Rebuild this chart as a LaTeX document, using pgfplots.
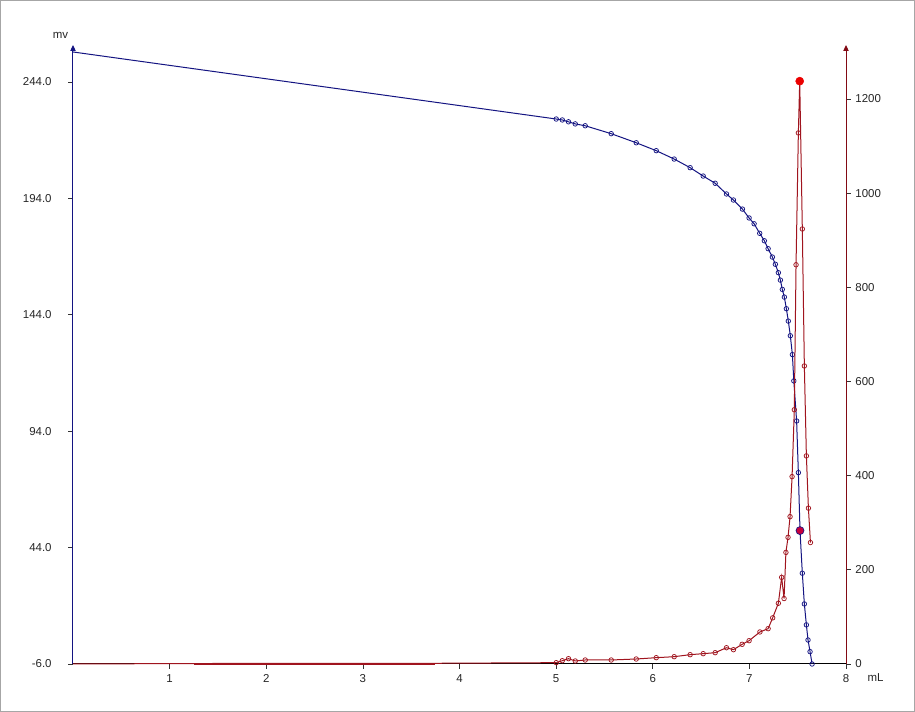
\documentclass[border=0pt]{standalone}
\usepackage{pgfplots}
\pgfplotsset{compat=1.18}
\usepackage{fontspec}
\setmainfont{Liberation Sans}
\usetikzlibrary{arrows.meta}
\definecolor{mvblue}{RGB}{20,20,130}
\definecolor{dred}{RGB}{160,20,30}
\definecolor{redaxis}{RGB}{130,10,20}
\definecolor{peakred}{RGB}{235,0,0}
\definecolor{eqdot}{RGB}{200,0,60}
\begin{document}
\begin{tikzpicture}
\useasboundingbox (0,0) rectangle (686.25pt,534pt);
\fill[white] (0,0) rectangle (686.25pt,534pt);
\draw[black!35, line width=0.75pt] (0.6pt,0.6pt) rectangle (685.6pt,533.4pt);
\pgfplotsset{
  common/.style={
    at={(54.75pt,36pt)}, anchor=south west,
    scale only axis, width=579.75pt, height=464.25pt,
    xmin=0, xmax=8, clip=false,
    tick align=outside, major tick length=3.5pt,
    tick style={black!80, line width=0.5pt},
    tick label style={font=\fontsize{8.6}{10}\selectfont, text=black!85},
  }
}
\begin{axis}[common,
  ymin=-6, ymax=259.9,
  axis x line*=bottom, axis y line*=left,
  x axis line style={black, line width=0.75pt, -},
  y axis line style={mvblue, line width=0.75pt, -{Triangle[length=4.5pt,width=4pt]}},
  xtick={1,2,3,4,5,6,7,8}, xticklabels={1,2,3,4,5,6,7,8},
  xticklabel style={yshift=-1pt},
  ytick={-6,44,94,144,194,244},
  yticklabels={-6.0,44.0,94.0,144.0,194.0,244.0},
  yticklabel style={xshift=-9pt},
]
\addplot[mvblue, line width=0.75pt] coordinates {(0,256.9)(5.001,228.1)};
\addplot[mvblue, line width=0.75pt, mark=o, mark size=1.7pt,
  mark options={fill=white, line width=0.55pt}] coordinates {
(5.001,228.1)(5.064,227.7)(5.128,226.9)(5.198,226.0)(5.301,225.2)
(5.570,221.8)(5.829,217.9)(6.036,214.5)(6.222,210.9)(6.387,207.2)
(6.522,203.6)(6.646,200.5)(6.763,195.9)(6.835,193.3)(6.928,189.4)
(6.997,185.6)(7.049,183.1)(7.107,179.0)(7.155,175.8)(7.194,172.4)
(7.238,168.8)(7.269,165.7)(7.300,162.1)(7.321,158.9)(7.341,154.9)
(7.362,151.6)(7.383,146.6)(7.403,141.3)(7.424,135.0)(7.445,126.9)
(7.460,115.6)(7.489,98.4)(7.507,76.2)(7.524,51.3)(7.548,33.0)
(7.569,19.8)(7.590,10.8)(7.607,4.3)(7.628,-0.7)(7.649,-6.0)};
\addplot[only marks, mark=*, mark size=3pt,
  mark options={fill=eqdot, draw=mvblue, line width=0.5pt}] coordinates {(7.524,51.3)};
\end{axis}
\begin{axis}[common,
  ymin=0, ymax=1314.8,
  axis x line=none, axis y line*=right,
  y axis line style={redaxis, line width=0.75pt, -{Triangle[length=4.5pt,width=4pt]}},
  ytick={0,200,400,600,800,1000,1200},
  yticklabels={0,200,400,600,800,1000,1200},
]
\addplot[dred, line width=0.75pt] coordinates {(0,0)(1.25,1)(3.75,1.5)(5.001,2.8)};
\addplot[dred, line width=1.6pt] coordinates {(1.25,0.8)(3.75,0.8)};
\addplot[dred, line width=0.75pt, mark=o, mark size=1.7pt,
  mark options={fill=white, line width=0.55pt}] coordinates {
(5.001,2.8)(5.064,7.0)(5.128,11.3)(5.198,6.4)(5.301,8.5)
(5.570,8.5)(5.829,10.6)(6.036,13.4)(6.222,15.5)(6.387,19.8)
(6.522,21.9)(6.646,24.0)(6.763,34.6)(6.835,30.4)(6.925,41.8)
(6.997,49.5)(7.109,68)(7.194,75)(7.241,98)(7.300,129)
(7.334,184)(7.359,139)(7.378,237)(7.400,269)(7.421,313)
(7.442,398)(7.465,540)(7.483,848)(7.507,1128)(7.521,1238)
(7.548,924)(7.569,633)(7.590,442)(7.611,331)(7.632,258)};
\addplot[only marks, mark=*, mark size=3pt,
  mark options={fill=peakred, draw=peakred}] coordinates {(7.521,1238)};
\end{axis}
\node[anchor=base, font=\fontsize{8.6}{10}\selectfont, text=black!85] at (45.4pt,505.1pt) {mv};
\node[anchor=base, font=\fontsize{8.6}{10}\selectfont, text=black!85] at (656.6pt,22.7pt) {mL};
\end{tikzpicture}
\end{document}
